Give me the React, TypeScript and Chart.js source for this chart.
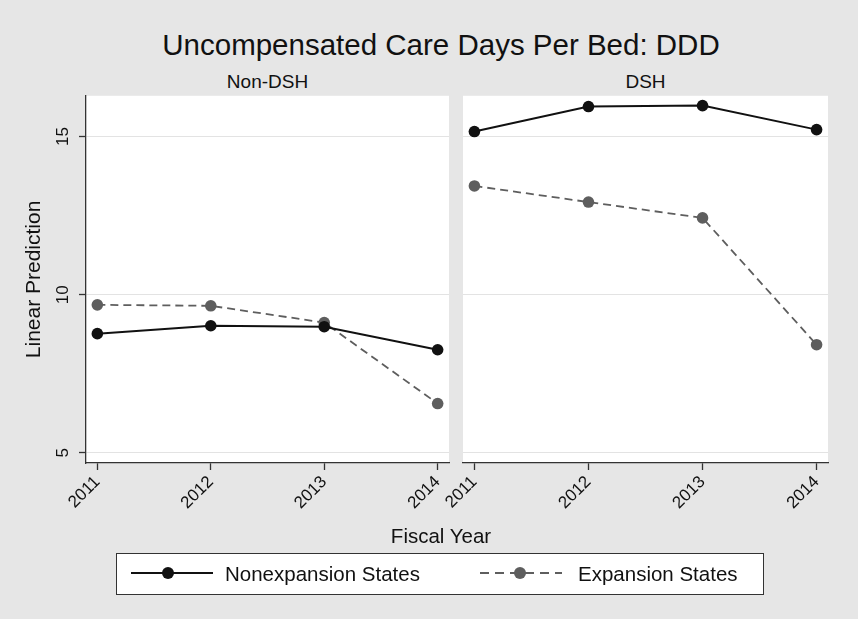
import React, { useEffect, useRef } from "react";
import { Chart, registerables } from "chart.js";

Chart.register(...registerables);

const title = "Uncompensated Care Days Per Bed: DDD";
const panelNames = ["Non-DSH", "DSH"];
const years = [2011, 2012, 2013, 2014];
const yTicks = [5, 10, 15];
const seriesNames = ["Nonexpansion States", "Expansion States"];
const nonDshNonexp = [8.77, 9.02, 8.99, 8.26];
const nonDshExp = [9.68, 9.65, 9.12, 6.56];
const dshNonexp = [15.16, 15.95, 15.98, 15.22];
const dshExp = [13.44, 12.93, 12.43, 8.42];
const yAxisTitle = "Linear Prediction";
const xAxisTitle = "Fiscal Year";

const FONT = "'Liberation Sans', Arial, Helvetica, sans-serif";
const BG = "#e6e6e6";
const DARK = "#111111";
const GRAY = "#5e5e5e";

const whiteArea = {
  id: "whiteArea",
  beforeDraw(chart: any) {
    const { ctx, chartArea } = chart;
    ctx.save();
    ctx.fillStyle = "#ffffff";
    ctx.fillRect(chartArea.left, chartArea.top, chartArea.right - chartArea.left, chartArea.bottom - chartArea.top);
    ctx.restore();
  },
};

function makeConfig(a: number[], b: number[], left: boolean): any {
  const pts = (arr: number[]) => years.map((y, i) => ({ x: y, y: arr[i] }));
  return {
    type: "line",
    data: {
      datasets: [
        {
          label: seriesNames[0],
          data: pts(a),
          borderColor: DARK,
          backgroundColor: DARK,
          borderWidth: 2,
          pointRadius: 5.8,
          pointBorderWidth: 0,
          pointBackgroundColor: DARK,
          order: 1,
        },
        {
          label: seriesNames[1],
          data: pts(b),
          borderColor: GRAY,
          backgroundColor: GRAY,
          borderWidth: 1.8,
          borderDash: [8, 5],
          pointRadius: 5.8,
          pointBorderWidth: 0,
          pointBackgroundColor: GRAY,
          order: 2,
        },
      ],
    },
    options: {
      animation: false,
      responsive: false,
      devicePixelRatio: 1,
      layout: {
        padding: left
          ? { left: 4, right: 409, top: 5, bottom: 0 }
          : { left: 463, right: 30, top: 5, bottom: 0 },
      },
      plugins: { legend: { display: false }, tooltip: { enabled: false }, title: { display: false } },
      scales: {
        x: {
          type: "linear",
          min: 2010.9,
          max: 2014.1,
          afterBuildTicks: (s: any) => {
            s.ticks = years.map((v) => ({ value: v }));
          },
          afterFit: (s: any) => {
            s.height = 67;
          },
          ticks: {
            callback: (v: any) => String(v),
            minRotation: 45,
            maxRotation: 45,
            padding: 2,
            color: DARK,
            font: { family: FONT, size: 17 },
          },
          grid: { drawOnChartArea: false, drawTicks: true, tickLength: 7, tickColor: "#333", tickWidth: 1.3 },
          border: { display: true, color: "#333", width: 1.3 },
        },
        y: {
          type: "linear",
          min: 4.68,
          max: 16.29,
          afterBuildTicks: (s: any) => {
            s.ticks = yTicks.map((v) => ({ value: v }));
          },
          afterFit: (s: any) => {
            s.width = left ? 82 : 0;
            s.paddingTop = 0;
            s.paddingBottom = 0;
          },
          title: left
            ? { display: true, text: yAxisTitle, color: DARK, font: { family: FONT, size: 21 }, padding: { top: 18, bottom: 0 } }
            : { display: false },
          ticks: {
            display: left,
            minRotation: 90,
            maxRotation: 90,
            crossAlign: "center",
            padding: 6,
            color: DARK,
            font: { family: FONT, size: 17 },
            callback: (v: any) => String(v),
          },
          grid: {
            drawOnChartArea: true,
            color: "#e3e3e3",
            lineWidth: 1,
            drawTicks: left,
            tickLength: 7,
            tickColor: "#333",
            tickWidth: 1.3,
          },
          border: { display: left, color: "#333", width: 1.3 },
        },
      },
    },
    plugins: [whiteArea],
  };
}

function Panel({ a, b, left }: { a: number[]; b: number[]; left: boolean }) {
  const ref = useRef<HTMLCanvasElement | null>(null);
  useEffect(() => {
    if (!ref.current) return;
    const chart = new Chart(ref.current, makeConfig(a, b, left));
    return () => chart.destroy();
  }, []);
  return (
    <canvas
      ref={ref}
      width={858}
      height={440}
      style={{ position: "absolute", left: 0, top: 90, width: 858, height: 440 }}
    />
  );
}

function LegendSample({ color, dashed }: { color: string; dashed: boolean }) {
  return (
    <svg width={82} height={14} style={{ display: "block" }}>
      <line
        x1={0}
        y1={7}
        x2={82}
        y2={7}
        stroke={color}
        strokeWidth={2}
        strokeDasharray={dashed ? "9 6" : undefined}
      />
      <circle cx={dashed ? 40 : 37} cy={7} r={6} fill={color} />
    </svg>
  );
}

export default function App() {
  return (
    <div
      style={{
        position: "fixed",
        left: 0,
        top: 0,
        width: 858,
        height: 619,
        background: BG,
        fontFamily: FONT,
        color: DARK,
        overflow: "hidden",
      }}
    >
      <div style={{ position: "absolute", left: 24, width: 834, top: 27, textAlign: "center", fontSize: 29.5, lineHeight: "36px", whiteSpace: "nowrap" }}>
        {title}
      </div>
      <div style={{ position: "absolute", left: 86, width: 363, top: 71, textAlign: "center", fontSize: 19, lineHeight: "22px" }}>
        {panelNames[0]}
      </div>
      <div style={{ position: "absolute", left: 463, width: 365, top: 71, textAlign: "center", fontSize: 19, lineHeight: "22px" }}>
        {panelNames[1]}
      </div>
      <Panel a={nonDshNonexp} b={nonDshExp} left={true} />
      <Panel a={dshNonexp} b={dshExp} left={false} />
      <div style={{ position: "absolute", left: 86, width: 710, top: 524, textAlign: "center", fontSize: 20.5, lineHeight: "24px" }}>
        {xAxisTitle}
      </div>
      <div
        style={{
          position: "absolute",
          left: 116,
          top: 553,
          width: 648,
          height: 42,
          background: "#ffffff",
          border: "1.5px solid #333",
          boxSizing: "border-box",
        }}
      >
        <div style={{ position: "absolute", left: 14, top: 12 }}>
          <LegendSample color={DARK} dashed={false} />
        </div>
        <div style={{ position: "absolute", left: 108, top: 8, fontSize: 20.5, lineHeight: "24px", whiteSpace: "nowrap" }}>
          {seriesNames[0]}
        </div>
        <div style={{ position: "absolute", left: 363, top: 12 }}>
          <LegendSample color={GRAY} dashed={true} />
        </div>
        <div style={{ position: "absolute", left: 461, top: 8, fontSize: 20.5, lineHeight: "24px", whiteSpace: "nowrap" }}>
          {seriesNames[1]}
        </div>
      </div>
    </div>
  );
}
